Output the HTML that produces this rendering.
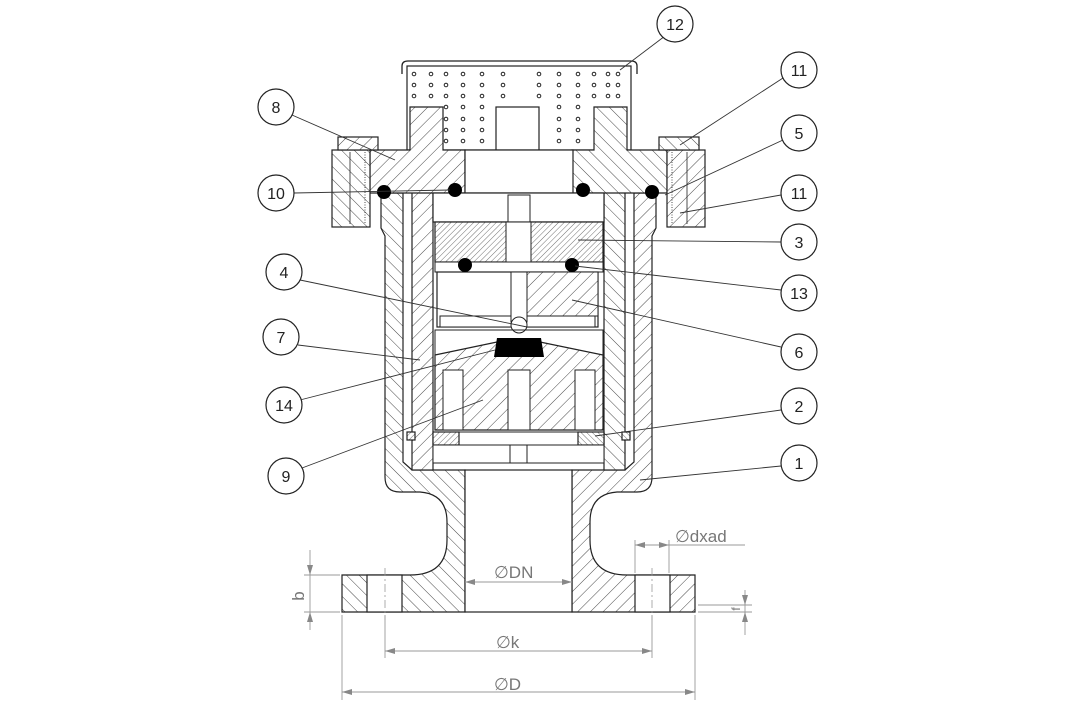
<!DOCTYPE html>
<html><head><meta charset="utf-8"><style>
html,body{margin:0;padding:0;background:#fff;}
svg{display:block;}
text{font-family:"Liberation Sans",sans-serif;}
</style></head><body>
<svg width="1078" height="716" viewBox="0 0 1078 716" xmlns="http://www.w3.org/2000/svg">
<defs>
<pattern id="h" patternUnits="userSpaceOnUse" width="9" height="9" patternTransform="rotate(45)"><rect width="9" height="9" fill="#fff"/><line x1="0" y1="0" x2="0" y2="9" stroke="#333" stroke-width="0.9"/></pattern>
<pattern id="h2" patternUnits="userSpaceOnUse" width="9" height="9" patternTransform="rotate(-45)"><rect width="9" height="9" fill="#fff"/><line x1="0" y1="0" x2="0" y2="9" stroke="#333" stroke-width="0.9"/></pattern>
<pattern id="hf" patternUnits="userSpaceOnUse" width="4" height="4" patternTransform="rotate(45)"><rect width="4" height="4" fill="#fff"/><line x1="0" y1="0" x2="0" y2="4" stroke="#333" stroke-width="0.7"/></pattern>
<g id="half" stroke="#222" stroke-width="1.2">
 <path d="M381,193 L403,193 L403,462 L412,470 L465,470 L465,612 L342,612 L342,575 L410,575 Q447,575 447,540 L447,522 Q447,494 420,492 L400,492 Q385,492 385,477 L385,236 L381,228 Z" fill="url(#h2)"/>
 <rect x="367" y="575" width="35" height="37" fill="#fff"/>
 <line x1="385" y1="568" x2="385" y2="620" stroke="#999" stroke-width="0.8" stroke-dasharray="8,3,2,3"/>
 <rect x="412" y="185" width="21" height="285" fill="url(#h)"/>
 <path d="M370,150 L410,150 L410,107 L443,107 L443,150 L465,150 L465,193 L370,193 Z" fill="url(#h)"/>
 <rect x="332" y="150" width="38" height="77" fill="url(#h2)"/>
 <rect x="338" y="137" width="40" height="13" fill="url(#h)"/>
 <line x1="350" y1="152" x2="350" y2="224" stroke-width="0.8"/>
 <line x1="365" y1="152" x2="365" y2="224" stroke-width="0.8" stroke-dasharray="1,1.5"/>
 <rect x="407" y="432" width="8" height="8" fill="url(#hf)"/>
 <rect x="433" y="432" width="26" height="13" fill="url(#hf)"/>
</g>
</defs>

<path d="M402,74 L402,66 Q402,61 408,61 L631,61 Q637,61 637,66 L637,74" fill="none" stroke="#222" stroke-width="1.3"/>
<rect x="407" y="66" width="224" height="84" fill="#fff" stroke="#222" stroke-width="1.2"/>
<g fill="none" stroke="#222" stroke-width="1">
<g id="dots">
<circle cx="414" cy="74" r="1.8"/><circle cx="431" cy="74" r="1.8"/><circle cx="446" cy="74" r="1.8"/><circle cx="463" cy="74" r="1.8"/><circle cx="482" cy="74" r="1.8"/><circle cx="503" cy="74" r="1.8"/>
<circle cx="539" cy="74" r="1.8"/><circle cx="559" cy="74" r="1.8"/><circle cx="578" cy="74" r="1.8"/><circle cx="594" cy="74" r="1.8"/><circle cx="608" cy="74" r="1.8"/><circle cx="618" cy="74" r="1.8"/>
</g>
<use href="#dots" y="11"/><use href="#dots" y="22"/>
<circle cx="446" cy="107" r="1.8"/><circle cx="463" cy="107" r="1.8"/><circle cx="482" cy="107" r="1.8"/><circle cx="559" cy="107" r="1.8"/><circle cx="578" cy="107" r="1.8"/>
<circle cx="446" cy="119" r="1.8"/><circle cx="463" cy="119" r="1.8"/><circle cx="482" cy="119" r="1.8"/><circle cx="559" cy="119" r="1.8"/><circle cx="578" cy="119" r="1.8"/>
<circle cx="446" cy="130" r="1.8"/><circle cx="463" cy="130" r="1.8"/><circle cx="482" cy="130" r="1.8"/><circle cx="559" cy="130" r="1.8"/><circle cx="578" cy="130" r="1.8"/>
<circle cx="446" cy="141" r="1.8"/><circle cx="463" cy="141" r="1.8"/><circle cx="482" cy="141" r="1.8"/><circle cx="559" cy="141" r="1.8"/><circle cx="578" cy="141" r="1.8"/>
</g>
<rect x="496" y="107" width="43" height="43" fill="#fff" stroke="#222" stroke-width="1.2"/>

<use href="#half"/>
<use href="#half" transform="translate(1037,0) scale(-1,1)"/>

<rect x="465" y="150" width="108" height="43" fill="#fff" stroke="#222" stroke-width="1.2"/>
<rect x="433" y="193" width="171" height="29" fill="#fff" stroke="#222" stroke-width="1.2"/>
<rect x="508" y="195" width="22" height="27" fill="#fff" stroke="#222" stroke-width="1"/>
<rect x="435" y="222" width="168" height="40" fill="url(#hf)" stroke="#222" stroke-width="1.2"/>
<rect x="506" y="222" width="25" height="40" fill="#fff" stroke="#222" stroke-width="1"/>
<rect x="435" y="262" width="168" height="10" fill="#fff" stroke="#222" stroke-width="1"/>
<rect x="437" y="272" width="161" height="55" fill="#fff" stroke="#222" stroke-width="1.2"/>
<path d="M527,272 L598,272 L598,316 L540,316 L527,327 Z" fill="url(#h)" stroke="#222" stroke-width="1"/>
<rect x="440" y="316" width="155" height="11" fill="#fff" stroke="#222" stroke-width="1"/>
<rect x="511" y="272" width="16" height="50" fill="#fff" stroke="#222" stroke-width="1"/>
<circle cx="519" cy="325" r="8" fill="#fff" stroke="#222" stroke-width="1"/>
<rect x="435" y="330" width="168" height="100" fill="none" stroke="#222" stroke-width="1"/>
<path d="M435,355 L497,342 L540,342 L603,355 L603,430 L435,430 Z" fill="url(#h)" stroke="#222" stroke-width="1.2"/>
<rect x="443" y="370" width="20" height="60" fill="#fff" stroke="#222" stroke-width="1"/>
<rect x="508" y="370" width="22" height="60" fill="#fff" stroke="#222" stroke-width="1"/>
<rect x="575" y="370" width="20" height="60" fill="#fff" stroke="#222" stroke-width="1"/>
<path d="M497,338 L541,338 L544,357 L494,357 Z" fill="#000"/>
<rect x="433" y="432" width="171" height="13" fill="none" stroke="#222" stroke-width="1"/>
<rect x="433" y="445" width="171" height="18" fill="#fff" stroke="#222" stroke-width="1"/>
<rect x="510" y="445" width="17" height="18" fill="#fff" stroke="#222" stroke-width="1"/>
<rect x="465" y="470" width="107" height="142" fill="#fff" stroke="#222" stroke-width="1.2"/>

<g fill="#000">
<circle cx="384" cy="192" r="7"/><circle cx="455" cy="190" r="7"/><circle cx="583" cy="190" r="7"/><circle cx="652" cy="192" r="7"/>
<circle cx="465" cy="265" r="7"/><circle cx="572" cy="265" r="7"/>
</g>

<g stroke="#333" stroke-width="0.9" fill="none">
<line x1="665" y1="36" x2="620" y2="70"/>
<line x1="783" y1="78" x2="680" y2="145"/>
<line x1="292" y1="115" x2="395" y2="160"/>
<line x1="783" y1="140" x2="665" y2="195"/>
<line x1="294" y1="193" x2="450" y2="190"/>
<line x1="781" y1="195" x2="680" y2="213"/>
<line x1="781" y1="242" x2="578" y2="240"/>
<line x1="300" y1="280" x2="527" y2="327"/>
<line x1="781" y1="290" x2="575" y2="266"/>
<line x1="298" y1="345" x2="420" y2="360"/>
<line x1="781" y1="347" x2="572" y2="300"/>
<line x1="300" y1="400" x2="495" y2="350"/>
<line x1="781" y1="410" x2="595" y2="436"/>
<line x1="302" y1="468" x2="483" y2="400"/>
<line x1="781" y1="466" x2="640" y2="480"/>
</g>
<g fill="#fff" stroke="#222" stroke-width="1.2">
<circle cx="675" cy="24" r="18"/><circle cx="799" cy="70" r="18"/><circle cx="276" cy="107" r="18"/>
<circle cx="799" cy="133" r="18"/><circle cx="276" cy="193" r="18"/><circle cx="799" cy="193" r="18"/>
<circle cx="799" cy="242" r="18"/><circle cx="284" cy="272" r="18"/><circle cx="799" cy="293" r="18"/>
<circle cx="281" cy="337" r="18"/><circle cx="799" cy="352" r="18"/><circle cx="284" cy="405" r="18"/>
<circle cx="799" cy="406" r="18"/><circle cx="286" cy="476" r="18"/><circle cx="799" cy="463" r="18"/>
</g>
<g font-size="16" text-anchor="middle" fill="#222">
<text x="675" y="30">12</text><text x="799" y="76">11</text><text x="276" y="113">8</text>
<text x="799" y="139">5</text><text x="276" y="199">10</text><text x="799" y="199">11</text>
<text x="799" y="248">3</text><text x="284" y="278">4</text><text x="799" y="299">13</text>
<text x="281" y="343">7</text><text x="799" y="358">6</text><text x="284" y="411">14</text>
<text x="799" y="412">2</text><text x="286" y="482">9</text><text x="799" y="469">1</text>
</g>

<g stroke="#999" stroke-width="0.9" fill="none">
<line x1="342" y1="615" x2="342" y2="700"/><line x1="695" y1="615" x2="695" y2="700"/>
<line x1="385" y1="615" x2="385" y2="658"/><line x1="652" y1="615" x2="652" y2="658"/>
<line x1="342" y1="692" x2="695" y2="692"/>
<line x1="385" y1="651" x2="652" y2="651"/>
<line x1="465" y1="582" x2="572" y2="582"/>
<line x1="304" y1="575" x2="340" y2="575"/><line x1="304" y1="612" x2="340" y2="612"/>
<line x1="310" y1="550" x2="310" y2="630"/>
<line x1="698" y1="605" x2="752" y2="605"/><line x1="698" y1="612" x2="752" y2="612"/>
<line x1="745" y1="590" x2="745" y2="635"/>
<line x1="635" y1="540" x2="635" y2="573"/><line x1="669" y1="540" x2="669" y2="573"/>
<line x1="635" y1="545" x2="745" y2="545"/>
</g>
<g fill="#888">
<path d="M342,692 l10,-3 v6 z"/><path d="M695,692 l-10,-3 v6 z"/>
<path d="M385,651 l10,-3 v6 z"/><path d="M652,651 l-10,-3 v6 z"/>
<path d="M465,582 l10,-3 v6 z"/><path d="M572,582 l-10,-3 v6 z"/>
<path d="M310,575 l-3,-10 h6 z"/><path d="M310,612 l-3,10 h6 z"/>
<path d="M745,605 l-3,-10 h6 z"/><path d="M745,612 l-3,10 h6 z"/>
<path d="M635,545 l10,-3 v6 z"/><path d="M669,545 l-10,-3 v6 z"/>
</g>
<g fill="#777" font-size="17">
<text x="494" y="578">∅DN</text>
<text x="496" y="648">∅k</text>
<text x="494" y="690">∅D</text>
<text x="675" y="542">∅dxad</text>
<text x="304" y="596" transform="rotate(-90 304 596)" text-anchor="middle">b</text>
<text x="740" y="609" transform="rotate(-90 740 609)" text-anchor="middle" font-size="12">f</text>
</g>
</svg>
</body></html>
